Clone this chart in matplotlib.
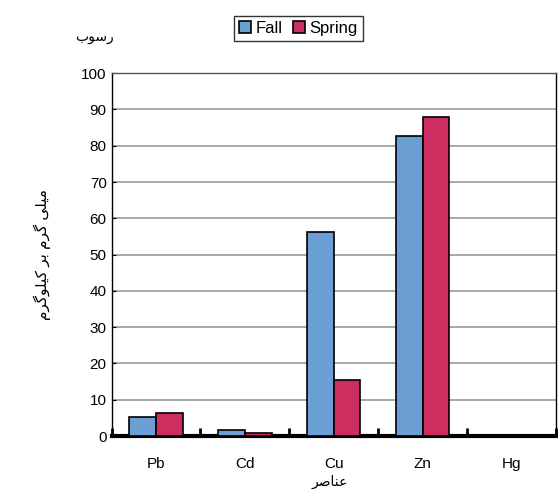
import numpy as np
import matplotlib.pyplot as plt

elements = ["Pb", "Cd", "Cu", "Zn", "Hg"]
fall = [5.2, 1.7, 56.2, 82.6, 0.0]
spring = [6.3, 0.8, 15.4, 88.0, 0.0]

# Persian text written in visual order with presentation forms (no shaping in matplotlib)
title_txt = "\uFE8F\uFEEE\uFEB3\uFEAD"                      # رسوب
xlabel_txt = "\uFEAE\uFEBB\uFE8E\uFEE8\uFECB"               # عناصر
ylabel_txt = ("\uFEE1\uFEAE\uFB94\uFEEE\uFEE0\uFEF4\uFEDB" + " " +
              "\uFEAE\uFE91" + " " +
              "\uFEE1\uFEAE\uFB94" + " " +
              "\uFEF0\uFEE0\uFEF4\uFEE3")                   # میلی گرم بر کیلوگرم

plt.rcParams['font.family'] = ['Liberation Sans', 'DejaVu Sans']

fig = plt.figure(figsize=(5.58, 4.91), dpi=100)
ax = fig.add_axes([0.2, 0.112, 0.796, 0.739])

x = np.arange(len(elements))
w = 0.3
ax.bar(x - w / 2, fall, w, color="#6b9fd3", edgecolor="black", linewidth=1.2, label="Fall", zorder=3)
ax.bar(x + w / 2, spring, w, color="#cc2f5f", edgecolor="black", linewidth=1.2, label="Spring", zorder=3)

ax.set_xlim(-0.5, len(elements) - 0.5)
ax.set_ylim(0, 100)
ax.set_yticks(range(0, 101, 10))
ax.set_yticklabels([str(v) for v in range(0, 101, 10)], fontsize=11)
ax.set_xticks(x)
ax.set_xticklabels(elements, fontsize=11)
ax.tick_params(axis='x', length=0, pad=15)
ax.set_xticks(np.arange(-0.5, len(elements)), minor=True)
ax.tick_params(axis='x', which='minor', length=6, width=2, direction='in')
ax.tick_params(axis='y', length=3, direction='in')

ax.grid(axis='y', color="#555555", linewidth=1.2, alpha=0.6, zorder=0)
for s in ax.spines.values():
    s.set_linewidth(1.0)
ax.spines['bottom'].set_linewidth(3)
ax.spines['top'].set_color("#555555")

ax.set_ylabel(ylabel_txt, fontsize=11, labelpad=22)
fig.text(0.59, 0.004, xlabel_txt, fontsize=10, ha='center', va='bottom')
fig.text(0.17, 0.925, title_txt, fontsize=10, ha='center', va='center')

leg = fig.legend(loc='upper center', bbox_to_anchor=(0.535, 0.985), ncol=2, fontsize=12,
                 frameon=True, fancybox=False, edgecolor="black", handlelength=0.7,
                 handletextpad=0.3, columnspacing=0.6, borderpad=0.3)

fig.savefig("out.png", dpi=100)
